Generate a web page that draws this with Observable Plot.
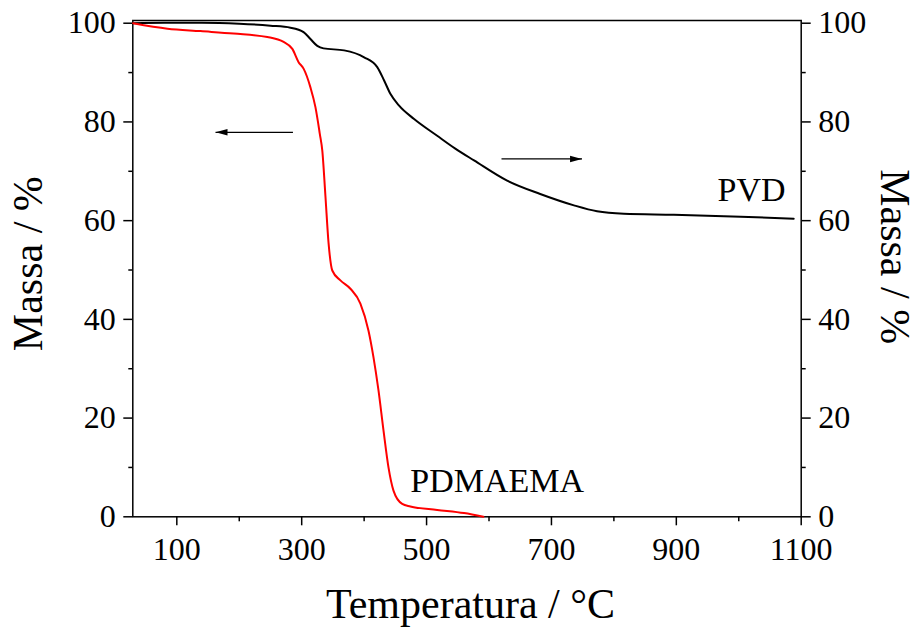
<!DOCTYPE html>
<html><head><meta charset="utf-8">
<script src="https://cdn.jsdelivr.net/npm/d3@7"></script>
<script src="https://cdn.jsdelivr.net/npm/@observablehq/plot@0.6"></script>
<style>body{margin:0;background:#fff}</style>
</head><body><div id="chart"></div>
<script>
// PVD (black, right axis)
const pvdTemp = [30, 80, 140, 200, 250, 282, 303, 314, 325, 335, 368, 400, 421, 432, 442, 456, 480, 517, 546, 576, 629, 682, 736, 773, 816, 896, 1003, 1088];
const pvdMass = [100, 100.1, 100.1, 99.9, 99.5, 99.1, 98.2, 96.8, 95.4, 94.9, 94.5, 93.1, 91.1, 88.4, 85.7, 83.3, 80.6, 77.2, 74.6, 72.2, 68.1, 65.4, 63.1, 61.9, 61.4, 61.2, 60.8, 60.4];
// PDMAEMA (red, left axis)
const pdmTemp = [30, 85, 138, 191, 245, 271, 285, 295, 303, 314, 322, 329, 333, 338, 343, 349, 362, 378, 394, 407, 415, 423, 431, 439, 447, 461, 474, 517, 560, 591];
const pdmMass = [100, 98.9, 98.4, 97.9, 97.2, 96.2, 94.8, 92.1, 90.8, 87.0, 83.0, 77.6, 74.2, 65, 55.5, 49.9, 47.9, 46.2, 43.2, 37.7, 32.3, 25.6, 17.5, 10, 5.3, 2.6, 2.1, 1.4, 0.75, 0];

const xMajorTicks = [100, 300, 500, 700, 900, 1100];
const xMinorTicks = [200, 400, 600, 800, 1000];
const yMajorTicks = [0, 20, 40, 60, 80, 100];
const yMinorTicks = [10, 30, 50, 70, 90];

const arrowStart = [286, 620];
const arrowEnd = [162, 749];
const arrowLevel = [77.9, 72.5];
const arrowAngle = [180, 0];

const labelNames = ["PVD", "PDMAEMA"];
const labelTemp = [1075, 474];
const labelMass = [63.9, 5.0];

const xTitle = "Temperatura / °C";
const yTitle = "Massa / %";

const pvd = pvdTemp.map((t, i) => ({t, m: pvdMass[i]}));
const pdm = pdmTemp.map((t, i) => ({t, m: pdmMass[i]}));
const arrows = arrowStart.map((x1, i) => ({x1, x2: arrowEnd[i], y: arrowLevel[i], a: arrowAngle[i]}));
const labels = labelNames.map((n, i) => ({n, x: labelTemp[i], y: labelMass[i]}));

const arrowHead = {
  draw(ctx, size) {
    const r = Math.sqrt(size / Math.PI);
    ctx.moveTo(0, 0);
    ctx.lineTo(-2 * r, -0.55 * r);
    ctx.lineTo(-2 * r, 0.55 * r);
    ctx.closePath();
  }
};

const fmt = d => String(d);
const font = "Liberation Serif";

const chart = Plot.plot({
  width: 920,
  height: 628,
  marginLeft: 132.3,
  marginRight: 119.3,
  marginTop: 20,
  marginBottom: 111.7,
  style: {fontFamily: font, background: "white", color: "black"},
  x: {domain: [29.5, 1100]},
  y: {domain: [0, 100.55]},
  marks: [
    Plot.axisX({anchor: "bottom", ticks: xMajorTicks, tickSize: 9, tickPadding: 11, fontSize: 32, strokeWidth: 1.5, tickFormat: fmt, label: null}),
    Plot.axisX({anchor: "bottom", ticks: xMinorTicks, tickSize: 5, strokeWidth: 1.5, text: null, label: null}),
    Plot.axisY({anchor: "left", ticks: yMajorTicks, tickSize: 9, tickPadding: 8, fontSize: 32, strokeWidth: 1.5, tickFormat: fmt, label: null}),
    Plot.axisY({anchor: "left", ticks: yMinorTicks, tickSize: 4, strokeWidth: 1.5, text: null, label: null}),
    Plot.axisY({anchor: "right", ticks: yMajorTicks, tickSize: 9, tickPadding: 8, fontSize: 32, strokeWidth: 1.5, tickFormat: fmt, label: null}),
    Plot.axisY({anchor: "right", ticks: yMinorTicks, tickSize: 4, strokeWidth: 1.5, text: null, label: null}),
    Plot.frame({stroke: "black", strokeWidth: 1.5}),
    Plot.line(pvd, {x: "t", y: "m", stroke: "black", strokeWidth: 2, curve: "monotone-x"}),
    Plot.line(pdm, {x: "t", y: "m", stroke: "#ff0000", strokeWidth: 2, curve: "monotone-x"}),
    Plot.link(arrows, {x1: "x1", x2: "x2", y1: "y", y2: "y", stroke: "black", strokeWidth: 1.2}),
    Plot.dot(arrows, {x: "x2", y: "y", symbol: arrowHead, r: 6, fill: "black", stroke: "none", rotate: "a"}),
    Plot.text(labels.slice(0, 1), {x: "x", y: "y", text: "n", textAnchor: "end", lineAnchor: "bottom", fontSize: 34, fill: "black"}),
    Plot.text(labels.slice(1), {x: "x", y: "y", text: "n", textAnchor: "start", lineAnchor: "bottom", fontSize: 34, fill: "black"}),
    Plot.text([xTitle], {frameAnchor: "bottom", dx: 3.5, dy: 100.7, textAnchor: "middle", lineAnchor: "bottom", fontSize: 42, fill: "black"}),
    Plot.text([yTitle], {frameAnchor: "left", dx: -91.3, dy: -5, rotate: -90, textAnchor: "middle", lineAnchor: "bottom", fontSize: 42, fill: "black"}),
    Plot.text([yTitle], {frameAnchor: "right", dx: 79.3, dy: -12, rotate: 90, textAnchor: "middle", lineAnchor: "bottom", fontSize: 42, fill: "black"})
  ]
});
document.getElementById("chart").appendChild(chart);
</script>
</body></html>
